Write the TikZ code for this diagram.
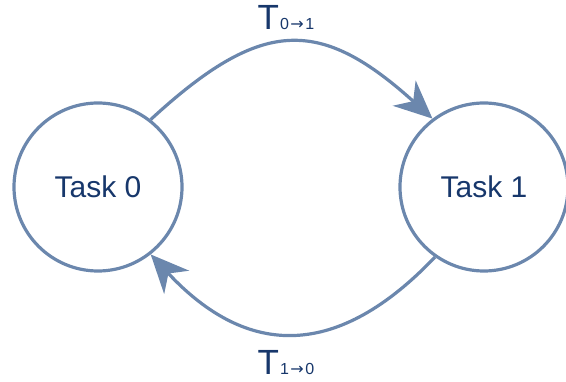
\documentclass[tikz,border=0pt]{standalone}
\usepackage{fontspec}
\setmainfont{Liberation Sans}
\newfontfamily\arrowfont{DejaVu Sans}
\usetikzlibrary{arrows.meta}
\definecolor{edgeblue}{RGB}{107,135,173}
\definecolor{textnavy}{RGB}{23,55,107}
\tikzset{
  task/.style={circle, draw=edgeblue, line width=3.2pt, minimum size=168pt,
    inner sep=0pt, text=textnavy, font=\fontsize{30}{30}\selectfont},
  trans/.style={draw=edgeblue, line width=3.2pt,
    -{Stealth[length=38pt, width=34pt, inset=12pt]}},
  tlabel/.style={anchor=base, text=textnavy, inner sep=0pt}
}
% transition label: large T with a small "from -> to" index
\newcommand{\translabel}[2]{{\fontsize{35}{35}\selectfont T}\kern1pt
  {\fontsize{16}{16}\selectfont #1\kern1.5pt{\arrowfont →}\kern1.5pt#2}}
\begin{document}
\begin{tikzpicture}[x=1pt, y=1pt]
  \useasboundingbox (0,0) rectangle (566,381);
  \node[task] (t0) at (98,194) {Task 0};
  \node[task] (t1) at (484,194) {Task 1};
  \draw[trans] (t0.52) .. controls (262,364) and (320,364) .. (t1.127);
  \draw[trans] (t1.235) .. controls (338,22) and (248,22) .. (t0.-52);
  \node[tlabel] (l01) at (286,351) {\translabel{0}{1}};
  \node[tlabel] (l10) at (286,6) {\translabel{1}{0}};
\end{tikzpicture}
\end{document}
